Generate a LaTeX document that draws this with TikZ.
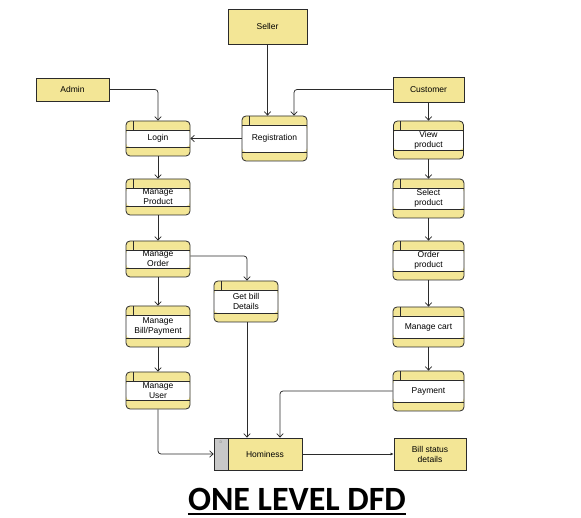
\documentclass[tikz,border=0pt]{standalone}
\usepackage{fontspec}
\usepackage{xcolor}
\usepackage{tikz}
\usetikzlibrary{arrows, arrows.meta}
\newfontfamily\dfdsans{Liberation Sans}
\newfontfamily\dfdtitle{Carlito}
\definecolor{dfdyellow}{HTML}{F3E696}
\definecolor{dfdline}{HTML}{2B2B2B}
\definecolor{dfdgrey}{HTML}{C8C8C8}
\tikzset{
  flow/.style={draw=dfdline, line width=0.75pt, rounded corners=3pt, -{Straight Barb[length=3.5pt,width=6.5pt]}},
  entity/.style={draw=dfdline, line width=0.8pt, fill=dfdyellow, inner sep=0pt, align=center,
    font=\dfdsans\fontsize{8.5}{10}\selectfont},
  proc/.style={draw=dfdline, line width=0.8pt, fill=dfdyellow, rounded corners=4pt, inner sep=0pt, align=center,
    font=\dfdsans\fontsize{8.5}{10}\selectfont,
    path picture={
      \fill[white] ([yshift=-9pt]path picture bounding box.north west) rectangle ([yshift=9pt]path picture bounding box.south east);
      \draw[dfdline, line width=0.8pt] ([yshift=-9pt]path picture bounding box.north west) -- ([yshift=-9pt]path picture bounding box.north east);
      \draw[dfdline, line width=0.8pt] ([yshift=9pt]path picture bounding box.south west) -- ([yshift=9pt]path picture bounding box.south east);
      \draw[dfdline, line width=0.8pt] ([xshift=7pt]path picture bounding box.north west) -- ([xshift=7pt,yshift=-9pt]path picture bounding box.north west);
    }},
}
\begin{document}
\begin{tikzpicture}[x=1pt, y=-1pt]
\useasboundingbox (0,0) rectangle (581,518);
%\draw[step=50pt,gray,very thin] (0,0) grid (581,518);
% external entities
\node[entity, minimum width=79pt, minimum height=35pt] (seller) at (267.5,26.5) {Seller};
\node[entity, minimum width=73pt, minimum height=23pt] (admin) at (72.5,89.5) {Admin};
\node[entity, minimum width=71pt, minimum height=25pt] (customer) at (428.5,89.5) {Customer};
\node[entity, minimum width=72pt, minimum height=32pt] (billstatus) at (430,454) {Bill status\\ details};
% processes, left side
\node[proc, minimum width=64pt, minimum height=35pt] (login) at (158,138.5) {Login};
\node[proc, minimum width=65pt, minimum height=45pt] (registration) at (274.5,138.5) {Registration};
\node[proc, minimum width=64pt, minimum height=36pt] (manageproduct) at (158,197) {Manage\\ Product};
\node[proc, minimum width=64pt, minimum height=36pt] (manageorder) at (158,259) {Manage\\ Order};
\node[proc, minimum width=64pt, minimum height=41pt] (getbill) at (246,301.5) {Get bill\\ Details};
\node[proc, minimum width=64pt, minimum height=41pt] (managebill) at (158,326.5) {Manage\\ Bill/Payment};
\node[proc, minimum width=64pt, minimum height=37pt] (manageuser) at (158,390.5) {Manage\\ User};
% processes, right side
\node[proc, minimum width=70pt, minimum height=38pt] (viewproduct) at (428.5,140) {View\\ product};
\node[proc, minimum width=71pt, minimum height=39pt] (selectproduct) at (428.5,198.5) {Select\\ product};
\node[proc, minimum width=71pt, minimum height=39pt] (orderproduct) at (428.5,260.5) {Order\\ product};
\node[proc, minimum width=71pt, minimum height=40pt] (managecart) at (428.5,327) {Manage cart};
\node[proc, minimum width=71pt, minimum height=40pt] (payment) at (428.5,391) {Payment};
% data store
\node[draw=dfdline, line width=0.8pt, fill=dfdgrey, minimum width=14pt, minimum height=32pt, inner sep=0pt] (storeid) at (221,454) {};
\node[entity, minimum width=74pt, minimum height=32pt] (hominess) at (265,454) {Hominess};
\node[text=gray, font=\dfdsans\fontsize{3.5}{4}\selectfont, inner sep=0pt] (storeD) at (221,442) {D};
% flows
\draw[flow] (seller.south) -- (seller.south |- registration.north);
\draw[flow] (admin.east) -| (login.north);
\draw[flow] (customer.west) -| ([xshift=19.5pt]registration.north);
\draw[flow] (registration.west) -- (login.east);
\draw[flow] (login.south) -- (manageproduct.north);
\draw[flow] (manageproduct.south) -- (manageorder.north);
\draw[flow] ([yshift=3pt]manageorder.east) -| ([xshift=1pt]getbill.north);
\draw[flow] (manageorder.south) -- (managebill.north);
\draw[flow] (managebill.south) -- (manageuser.north);
\draw[flow] (manageuser.south) |- (storeid.west);
\draw[flow] ([xshift=1pt]getbill.south) -- ([xshift=1pt]getbill.south |- hominess.north);
\draw[flow] (payment.west) -| ([xshift=15pt]hominess.north);
\draw[flow] (customer.south) -- (viewproduct.north);
\draw[flow] (viewproduct.south) -- (selectproduct.north);
\draw[flow] (selectproduct.south) -- (orderproduct.north);
\draw[flow] (orderproduct.south) -- (managecart.north);
\draw[flow] (managecart.south) -- (payment.north);
\draw[draw=dfdline, line width=0.75pt, -{Latex[length=3pt,width=3pt]}] (hominess.east) -- (billstatus.west);
% title
\node[anchor=base, inner sep=0pt, font=\dfdtitle\bfseries\fontsize{34}{36}\selectfont] (title) at (297,510) {ONE LEVEL DFD};
\draw[line width=2pt] ([yshift=-3.5pt]title.base west) -- ([yshift=-3.5pt]title.base east);
\end{tikzpicture}
\end{document}
